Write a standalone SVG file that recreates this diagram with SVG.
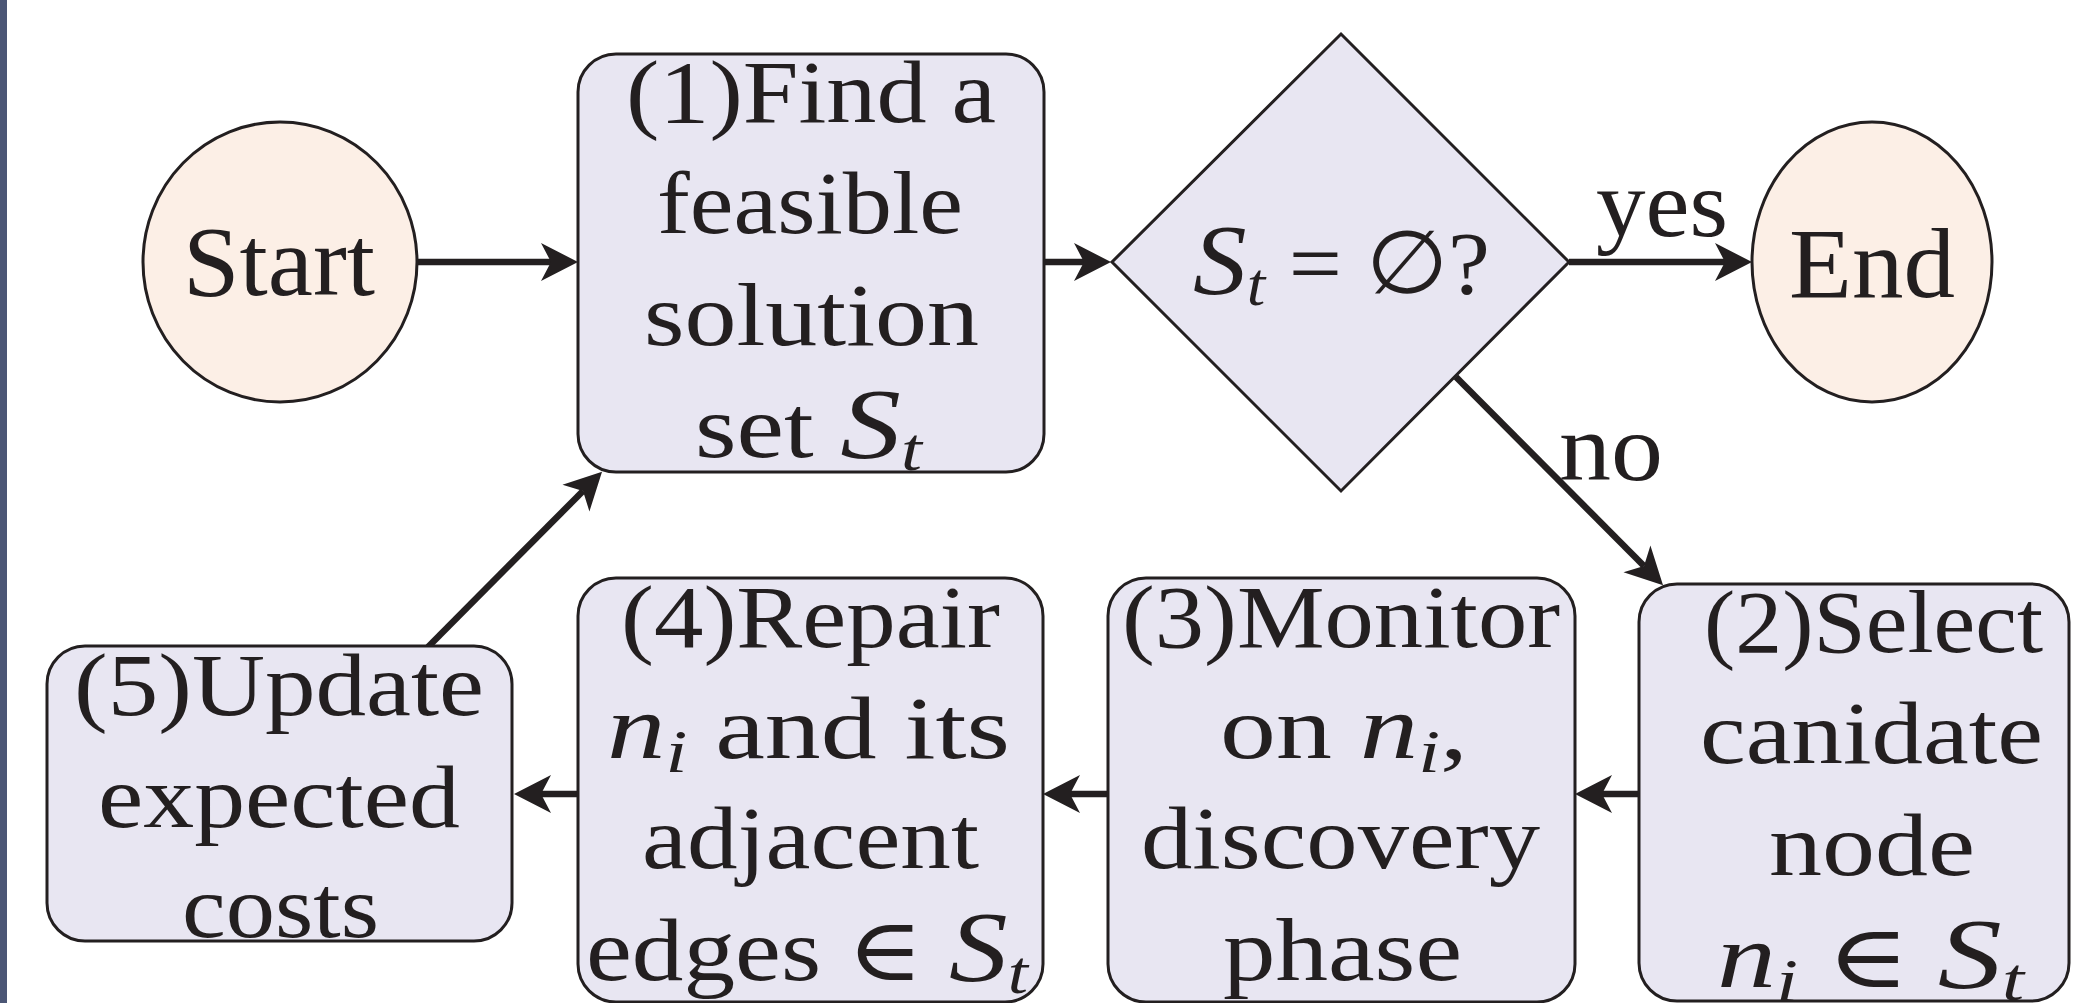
<svg xmlns="http://www.w3.org/2000/svg" width="2075" height="1003" viewBox="0 0 2075 1003">
<style>
.t{font-family:"Liberation Serif","DejaVu Serif",serif;font-size:88px;fill:#231f20}
.big{font-size:100px}
.lbl{font-size:96px}
.m{font-style:italic;font-size:100px}
.mn{font-style:italic;font-size:92px}
.sub{font-style:italic;font-size:62px}
.box{fill:#e8e6f2;stroke:#231f20;stroke-width:3}
.term{fill:#fcefe6;stroke:#231f20;stroke-width:3}
.edge{stroke:#231f20;stroke-width:6.5;fill:none;marker-end:url(#ah)}
</style>
<defs>
<marker id="ah" markerUnits="userSpaceOnUse" markerWidth="38" markerHeight="40" viewBox="0 0 38 40" refX="10" refY="20" orient="auto">
<path d="M37,20 L0,1 L10,20 L0,39 Z" fill="#231f20"/>
</marker>
</defs>
<rect x="0" y="0" width="2075" height="1003" fill="#ffffff"/>
<rect x="0" y="0" width="7" height="1003" fill="#4b5675"/>

<g id="connectors">
<line class="edge" x1="417" y1="262" x2="551" y2="262"/>
<line class="edge" x1="1044" y1="262" x2="1084" y2="262"/>
<line class="edge" x1="1569" y1="262" x2="1725" y2="262"/>
<line class="edge" x1="1456" y1="377" x2="1644" y2="566"/>
<line class="edge" x1="1639" y1="794" x2="1602" y2="794"/>
<line class="edge" x1="1108" y1="794" x2="1070" y2="794"/>
<line class="edge" x1="578" y1="794" x2="541" y2="794"/>
<line class="edge" x1="428" y1="647" x2="583" y2="491"/>
<text class="t lbl" x="1596" y="236" textLength="132" lengthAdjust="spacingAndGlyphs">yes</text>
<text class="t lbl" x="1559" y="480" textLength="104" lengthAdjust="spacingAndGlyphs">no</text>
</g>

<g id="start">
<ellipse class="term" cx="280" cy="262" rx="137" ry="140"/>
<text class="t big" x="183" y="295" textLength="192" lengthAdjust="spacingAndGlyphs">Start</text>
</g>

<g id="step1">
<rect class="box" x="578" y="54" width="466" height="418" rx="38" ry="38"/>
<text class="t" x="626" y="122" textLength="370" lengthAdjust="spacingAndGlyphs">(1)Find a</text>
<text class="t" x="657" y="233" textLength="306" lengthAdjust="spacingAndGlyphs">feasible</text>
<text class="t" x="644" y="345" textLength="335" lengthAdjust="spacingAndGlyphs">solution</text>
<text class="t" x="695" y="457" textLength="227" lengthAdjust="spacingAndGlyphs">set <tspan class="m">S</tspan><tspan class="sub" dy="13">t</tspan></text>
</g>

<g id="decision">
<polygon class="box" points="1341,34 1569,262 1341,491 1112,262"/>
<text class="t" x="1193" y="293" textLength="297" lengthAdjust="spacingAndGlyphs"><tspan class="m">S</tspan><tspan class="sub" dy="12">t</tspan><tspan dy="-12"> = ∅?</tspan></text>
</g>

<g id="end">
<ellipse class="term" cx="1872" cy="262" rx="120" ry="140"/>
<text class="t big" x="1789" y="297" textLength="166" lengthAdjust="spacingAndGlyphs">End</text>
</g>

<g id="step2">
<rect class="box" x="1639" y="584" width="430" height="417" rx="38" ry="38"/>
<text class="t" x="1704" y="652" textLength="339" lengthAdjust="spacingAndGlyphs">(2)Select</text>
<text class="t" x="1700" y="763" textLength="343" lengthAdjust="spacingAndGlyphs">canidate</text>
<text class="t" x="1769" y="875" textLength="206" lengthAdjust="spacingAndGlyphs">node</text>
<text class="t" x="1717" y="987" textLength="307" lengthAdjust="spacingAndGlyphs"><tspan class="mn">n</tspan><tspan class="sub" dy="14">i</tspan><tspan dy="-14"> ∈ </tspan><tspan class="m">S</tspan><tspan class="sub" dy="13">t</tspan></text>
</g>

<g id="step3">
<rect class="box" x="1108" y="578" width="467" height="424" rx="38" ry="38"/>
<text class="t" x="1122" y="647" textLength="438" lengthAdjust="spacingAndGlyphs">(3)Monitor</text>
<text class="t" x="1220" y="758" textLength="248" lengthAdjust="spacingAndGlyphs">on <tspan class="mn">n</tspan><tspan class="sub" dy="14">i</tspan><tspan dy="-14">,</tspan></text>
<text class="t" x="1141" y="868" textLength="399" lengthAdjust="spacingAndGlyphs">discovery</text>
<text class="t" x="1223" y="980" textLength="239" lengthAdjust="spacingAndGlyphs">phase</text>
</g>

<g id="step4">
<rect class="box" x="578" y="578" width="465" height="424" rx="38" ry="38"/>
<text class="t" x="621" y="647" textLength="379" lengthAdjust="spacingAndGlyphs">(4)Repair</text>
<text class="t" x="607" y="758" textLength="403" lengthAdjust="spacingAndGlyphs"><tspan class="mn">n</tspan><tspan class="sub" dy="14">i</tspan><tspan dy="-14"> and its</tspan></text>
<text class="t" x="642" y="868" textLength="337" lengthAdjust="spacingAndGlyphs">adjacent</text>
<text class="t" x="586" y="980" textLength="442" lengthAdjust="spacingAndGlyphs">edges ∈ <tspan class="m">S</tspan><tspan class="sub" dy="13">t</tspan></text>
</g>

<g id="step5">
<rect class="box" x="47" y="646" width="465" height="295" rx="38" ry="38"/>
<text class="t" x="74" y="715" textLength="410" lengthAdjust="spacingAndGlyphs">(5)Update</text>
<text class="t" x="98" y="827" textLength="362" lengthAdjust="spacingAndGlyphs">expected</text>
<text class="t" x="182" y="937" textLength="197" lengthAdjust="spacingAndGlyphs">costs</text>
</g>
</svg>
